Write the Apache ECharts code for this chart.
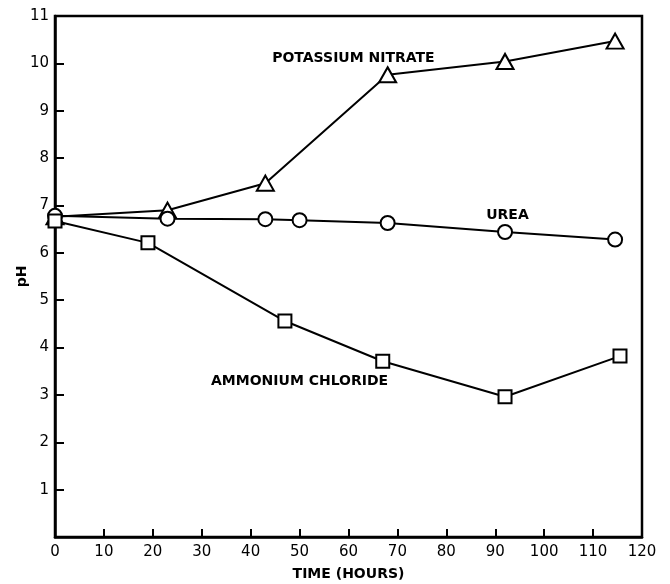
<!DOCTYPE html>
<html>
<head>
<meta charset="utf-8">
<script src="https://cdn.jsdelivr.net/npm/echarts@6/dist/echarts.min.js"></script>
<style>
html,body{margin:0;padding:0;background:#fff;}
#chart{width:670px;height:584px;}
</style>
</head>
<body>
<div id="chart"></div>
<script>
// Data (time in hours, pH)
var nitrateHours = [0, 23, 43, 68, 92, 114.5];
var nitratePH    = [6.76, 6.9, 7.47, 9.76, 10.04, 10.47];
var ureaHours    = [0, 23, 43, 50, 68, 92, 114.5];
var ureaPH       = [6.78, 6.72, 6.71, 6.69, 6.63, 6.44, 6.28];
var chlorideHours = [0, 19, 47, 67, 92, 115.5];
var chloridePH    = [6.67, 6.21, 4.56, 3.71, 2.96, 3.82];
var labelNames = ['POTASSIUM NITRATE', 'UREA', 'AMMONIUM CHLORIDE'];
var labelHours = [61, 92.5, 50];
var labelPH    = [10.11, 6.8, 3.28];
var xTitle = 'TIME (HOURS)';
var yTitle = 'pH';

function pairs(xs, ys){ return xs.map(function(x,i){ return [x, ys[i]]; }); }

var font = 'DejaVu Sans, Liberation Sans, sans-serif';
var lineSeries = function(name, xs, ys, symbol, size){
  return {
    name: name, type: 'line', data: pairs(xs, ys),
    symbol: symbol, symbolSize: size, showAllSymbol: true,
    lineStyle: {color: '#000', width: 2},
    itemStyle: {color: '#fff', borderColor: '#000', borderWidth: 2},
    z: 3, animation: false
  };
};

var chart = echarts.init(document.getElementById('chart'), null, {renderer: 'canvas'});
chart.setOption({
  backgroundColor: '#fff',
  animation: false,
  grid: {left: 55, right: 28, top: 16, bottom: 47, containLabel: false, outerBoundsMode: 'none',
    show: true, borderColor: '#000', borderWidth: 2.5, backgroundColor: 'transparent'},
  xAxis: {
    type: 'value', min: 0, max: 120, interval: 10,
    name: xTitle, nameLocation: 'middle', nameGap: 30,
    nameTextStyle: {color: '#000', fontFamily: font, fontSize: 14, fontWeight: 'bold'},
    axisLine: {show: true, lineStyle: {color: '#000', width: 2.5}},
    axisTick: {show: true, inside: true, length: 8, lineStyle: {color: '#000', width: 2}},
    axisLabel: {color: '#000', fontFamily: font, fontSize: 15, margin: 8},
    splitLine: {show: false}
  },
  yAxis: {
    type: 'value', min: 0, max: 11, interval: 1,
    name: yTitle, nameLocation: 'middle', nameGap: 26, nameRotate: 90, nameMoveOverlap: false,
    nameTextStyle: {color: '#000', fontFamily: font, fontSize: 14, fontWeight: 'bold'},
    axisLine: {show: true, lineStyle: {color: '#000', width: 2.5}},
    axisTick: {show: true, inside: true, length: 9, lineStyle: {color: '#000', width: 2}},
    axisLabel: {color: '#000', fontFamily: font, fontSize: 15, margin: 6,
      formatter: function(v){ return v === 0 ? '' : String(v); }},
    splitLine: {show: false}
  },
  series: [
    lineSeries('Potassium nitrate', nitrateHours, nitratePH, 'triangle', [17, 15]),
    lineSeries('Urea', ureaHours, ureaPH, 'circle', 14),
    lineSeries('Ammonium chloride', chlorideHours, chloridePH, 'rect', 13),
    {
      type: 'scatter', symbolSize: 1, silent: true, z: 5,
      itemStyle: {color: 'rgba(0,0,0,0)', opacity: 1},
      data: labelNames.map(function(n,i){ return {value: [labelHours[i], labelPH[i]], name: n}; }),
      label: {show: true, position: 'inside', formatter: '{b}', color: '#000', opacity: 1,
        fontFamily: font, fontSize: 14, fontWeight: 'bold', textBorderWidth: 0}
    }
  ]
});
</script>
</body>
</html>
